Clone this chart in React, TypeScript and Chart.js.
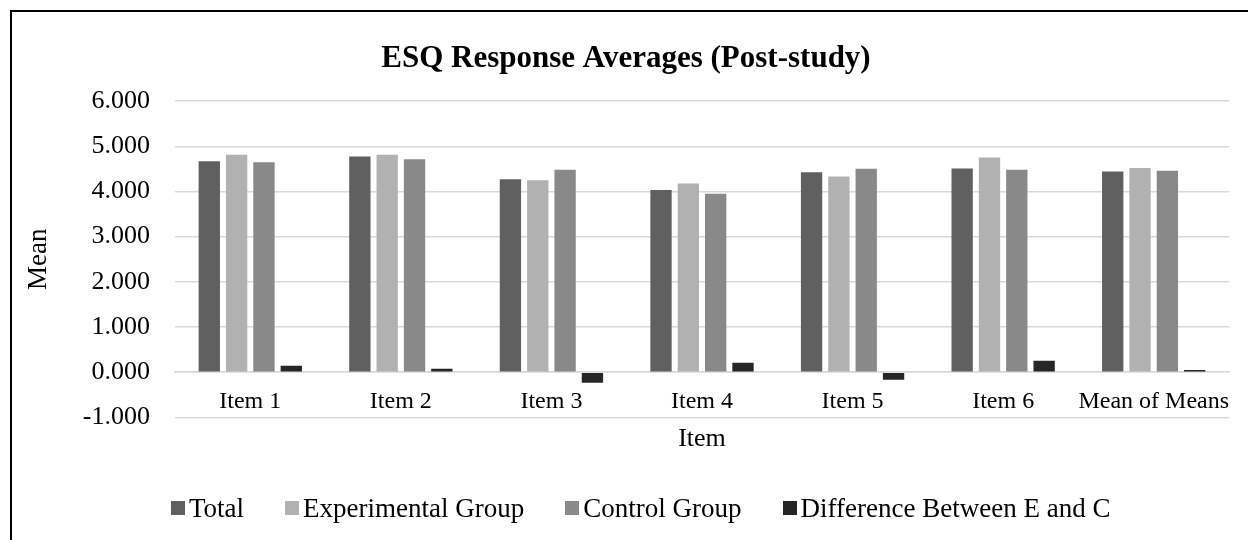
import React, { useEffect, useRef } from "react";
import { Chart, registerables } from "chart.js";

Chart.register(...registerables);

const categories = ["Item 1", "Item 2", "Item 3", "Item 4", "Item 5", "Item 6", "Mean of Means"];
const totalValues = [4.668, 4.772, 4.27, 4.03, 4.425, 4.51, 4.44];
const experimentalValues = [4.81, 4.81, 4.25, 4.175, 4.33, 4.75, 4.52];
const controlValues = [4.646, 4.71, 4.48, 3.95, 4.5, 4.48, 4.46];
const differenceValues = [0.14, 0.075, -0.235, 0.21, -0.17, 0.25, 0.045];
const seriesNames = ["Total", "Experimental Group", "Control Group", "Difference Between E and C"];
const seriesColors = ["#606060", "#b1b1b1", "#898989", "#262626"];
const yTicks = [-1, 0, 1, 2, 3, 4, 5, 6];

const FONT = "'Liberation Serif', 'Times New Roman', serif";

export default function App() {
  const ref = useRef<HTMLCanvasElement | null>(null);

  useEffect(() => {
    if (!ref.current) return;
    const seriesValues = [totalValues, experimentalValues, controlValues, differenceValues];
    const chart = new Chart(ref.current, {
      type: "bar",
      data: {
        labels: categories,
        datasets: seriesNames.map((name, i) => ({
          label: name,
          data: seriesValues[i],
          backgroundColor: seriesColors[i],
          borderWidth: 0,
          xAxisID: "x",
          yAxisID: "y",
          categoryPercentage: 0.726,
          barPercentage: 0.78,
        })),
      },
      options: {
        responsive: false,
        animation: false,
        maintainAspectRatio: false,
        layout: { padding: { left: 11, right: 19, top: 0, bottom: 0 } },
        plugins: {
          legend: { display: false },
          tooltip: { enabled: false },
          title: {
            display: true,
            text: "ESQ Response Averages (Post-study)",
            color: "#000",
            font: { family: FONT, size: 31, weight: "bold" },
            padding: { top: 28.5, bottom: 23.4 },
          },
        },
        scales: {
          x: {
            type: "category",
            position: { y: 0 } as any,
            grid: { display: false, drawTicks: false },
            border: { display: true, color: "#d9d9d9", width: 1.5 },
            ticks: {
              color: "#000",
              font: { family: FONT, size: 24 },
              padding: 15,
              maxRotation: 0,
              autoSkip: false,
            },
          },
          x2: {
            type: "category",
            position: "bottom",
            labels: categories,
            grid: { display: false, drawTicks: false },
            border: { display: false },
            ticks: { display: false },
            title: {
              display: true,
              text: "Item",
              color: "#000",
              font: { family: FONT, size: 26 },
              padding: { top: 0, bottom: 85.4 },
            },
            afterFit: (scale: any) => {
              scale.height = 122.7;
            },
          },
          y: {
            min: -1,
            max: 6,
            afterBuildTicks: (scale: any) => {
              scale.ticks = yTicks.map((v) => ({ value: v }));
            },
            grid: { color: "#d9d9d9", lineWidth: 1.5, drawTicks: false },
            border: { display: false },
            ticks: {
              color: "#000",
              font: { family: FONT, size: 26 },
              padding: 25,
              callback: (v: any) => Number(v).toFixed(3),
            },
            title: {
              display: true,
              text: "Mean",
              color: "#000",
              font: { family: FONT, size: 27 },
              padding: { top: 0, bottom: 0 },
            },
            afterFit: (scale: any) => {
              scale.width = 152;
            },
          },
        },
      },
    });
    return () => chart.destroy();
  }, []);

  return (
    <div style={{ position: "absolute", left: 0, top: 0, width: 1248, height: 540, background: "#fff", overflow: "hidden" }}>
      <div
        style={{
          position: "absolute",
          left: 10,
          top: 10,
          width: 1238,
          height: 530,
          borderTop: "2px solid #000",
          borderLeft: "2px solid #000",
          boxSizing: "border-box",
        }}
      >
        <canvas ref={ref} width={1236} height={528} style={{ display: "block", width: 1236, height: 528 }} />
      </div>
      <div
        style={{
          position: "absolute",
          left: 171,
          top: 494,
          height: 28,
          display: "flex",
          alignItems: "center",
          gap: 41,
          fontFamily: FONT,
          fontSize: 27,
          color: "#000",
          whiteSpace: "nowrap",
        }}
      >
        {seriesNames.map((name, i) => (
          <div key={name} style={{ display: "flex", alignItems: "center" }}>
            <span style={{ display: "inline-block", width: 14, height: 14, background: seriesColors[i], marginRight: 4 }} />
            <span>{name}</span>
          </div>
        ))}
      </div>
    </div>
  );
}
